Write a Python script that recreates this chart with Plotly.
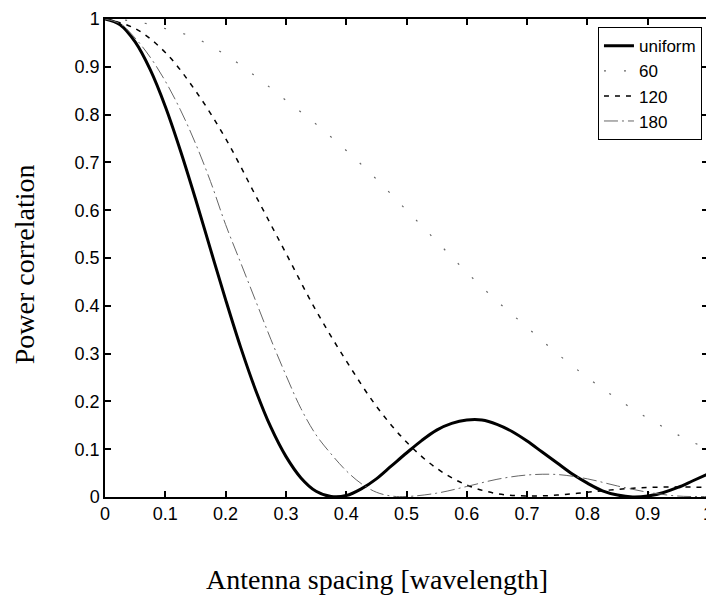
import plotly.graph_objects as go

# antenna spacing in wavelengths
spacing_uniform = [0, 0.025, 0.05, 0.075, 0.1, 0.125, 0.15, 0.175, 0.2, 0.225, 0.25, 0.275,
                   0.3, 0.325, 0.35, 0.375, 0.4, 0.425, 0.45, 0.475, 0.5, 0.525, 0.55, 0.575,
                   0.6, 0.625, 0.65, 0.675, 0.7, 0.725, 0.75, 0.775, 0.8, 0.825, 0.85, 0.875,
                   0.9, 0.925, 0.95, 0.975, 1.0]
corr_uniform = [1.0, 0.988, 0.952, 0.894, 0.817, 0.725, 0.624, 0.518, 0.413, 0.313, 0.223, 0.146,
                0.085, 0.040, 0.012, 0.001, 0.003, 0.017, 0.038, 0.065, 0.092, 0.118, 0.140, 0.154,
                0.161, 0.161, 0.152, 0.137, 0.117, 0.094, 0.071, 0.048, 0.029, 0.013, 0.004, 0.0,
                0.002, 0.009, 0.020, 0.034, 0.048]

spacing = [0, 0.05, 0.1, 0.15, 0.2, 0.25, 0.3, 0.35, 0.4, 0.45, 0.5,
           0.55, 0.6, 0.65, 0.7, 0.75, 0.8, 0.85, 0.9, 0.95, 1.0]
corr_60 = [1.0, 0.995, 0.98, 0.96, 0.925, 0.88, 0.83, 0.78, 0.725, 0.665, 0.60,
           0.535, 0.47, 0.41, 0.355, 0.30, 0.25, 0.205, 0.165, 0.13, 0.10]
corr_120 = [1.0, 0.98, 0.93, 0.85, 0.75, 0.63, 0.51, 0.39, 0.285, 0.19, 0.115,
            0.06, 0.025, 0.007, 0.002, 0.004, 0.01, 0.016, 0.02, 0.021, 0.02]

spacing_180 = [0, 0.025, 0.05, 0.075, 0.1, 0.125, 0.15, 0.175, 0.2, 0.225, 0.25, 0.275,
               0.3, 0.325, 0.35, 0.375, 0.4, 0.425, 0.45, 0.475, 0.5, 0.55, 0.6,
               0.65, 0.7, 0.75, 0.8, 0.85, 0.9, 0.95, 1.0]
corr_180 = [1.0, 0.99, 0.96, 0.92, 0.87, 0.81, 0.74, 0.66, 0.57, 0.49, 0.41, 0.33,
            0.255, 0.185, 0.13, 0.09, 0.055, 0.028, 0.01, 0.002, 0.001, 0.008, 0.022,
            0.037, 0.046, 0.047, 0.038, 0.023, 0.01, 0.002, 0.001]

x_ticks = [0, 0.1, 0.2, 0.3, 0.4, 0.5, 0.6, 0.7, 0.8, 0.9, 1]
y_ticks = [0, 0.1, 0.2, 0.3, 0.4, 0.5, 0.6, 0.7, 0.8, 0.9, 1]

fig = go.Figure()
fig.add_trace(go.Scatter(x=spacing_uniform, y=corr_uniform, name='uniform', mode='lines',
                         line=dict(color='black', width=3, shape='spline')))
fig.add_trace(go.Scatter(x=spacing, y=corr_60, name='60', mode='lines',
                         line=dict(color='#666666', width=1.2, dash='2px,18px', shape='spline')))
fig.add_trace(go.Scatter(x=spacing, y=corr_120, name='120', mode='lines',
                         line=dict(color='black', width=1.5, dash='5px,6px', shape='spline')))
fig.add_trace(go.Scatter(x=spacing_180, y=corr_180, name='180', mode='lines',
                         line=dict(color='#666666', width=1, dash='14px,4px,2px,4px',
                                   shape='spline')))

axis_style = dict(showline=True, linecolor='black', linewidth=1.5, mirror='ticks',
                  ticks='inside', ticklen=6, tickcolor='black', tickwidth=1.5,
                  showgrid=False, zeroline=False, ticklabeloverflow='allow',
                  tickfont=dict(family='Liberation Sans, Arial', size=18, color='black'))

fig.update_xaxes(range=[0, 1], tickvals=x_ticks, ticktext=[f'{v:g}' for v in x_ticks],
                 **axis_style)
fig.update_yaxes(range=[0, 1], tickvals=y_ticks, ticktext=[f'{v:g}' for v in y_ticks],
                 **axis_style)

title_font = dict(family='Liberation Serif, Times New Roman', size=28, color='black')
fig.add_annotation(text='Antenna spacing [wavelength]', xref='paper', yref='paper',
                   x=0.4507, y=-0.1726, xanchor='center', yanchor='middle',
                   showarrow=False, font=title_font)
fig.add_annotation(text='Power correlation', xref='paper', yref='paper',
                   x=-0.133, y=0.4865, xanchor='center', yanchor='middle',
                   textangle=-90, showarrow=False, font=title_font)

# page body adds an 8px margin, so the figure is shrunk by that much
fig.update_layout(width=706, height=590,
                  margin=dict(l=97, r=1, t=8, b=101),
                  paper_bgcolor='white', plot_bgcolor='white',
                  legend=dict(x=0.99, y=0.983, xanchor='right', yanchor='top',
                              bordercolor='black', borderwidth=1, bgcolor='white',
                              font=dict(family='Liberation Sans, Arial', size=17,
                                        color='black'),
                              tracegroupgap=0))
fig.write_html("out.html")
